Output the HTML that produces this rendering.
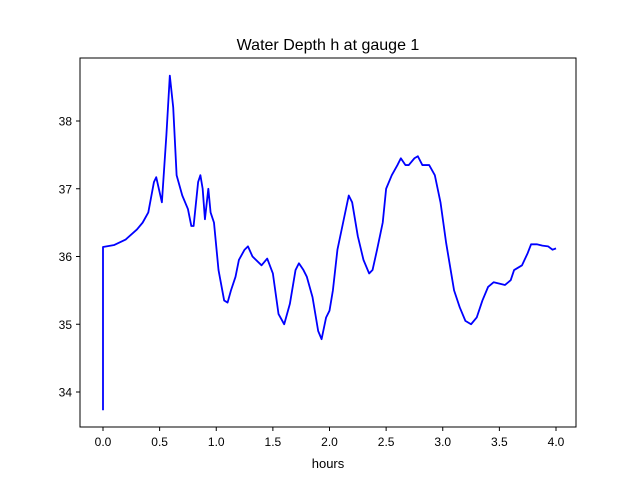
<!DOCTYPE html>
<html><head><meta charset="utf-8"><style>
body{margin:0;background:#fff}
svg{display:block;font-family:"Liberation Sans","DejaVu Sans",sans-serif}
</style></head><body>
<svg id="chart" width="640" height="480" viewBox="0 0 640 480">
<rect width="640" height="480" fill="#fff"/>
<text x="328" y="50" font-size="16" text-anchor="middle">Water Depth h at gauge 1</text>
<g id="plot"></g>
<rect x="80" y="58" width="496" height="369" fill="none" stroke="#000" stroke-width="1"/>
<text x="328" y="468" font-size="13" text-anchor="middle">hours</text>
</svg>
<script>
const times=[0,0,0.1,0.2,0.3,0.35,0.4,0.45,0.47,0.52,0.56,0.59,0.62,0.65,0.7,0.75,0.78,0.8,0.84,0.86,0.88,0.9,0.93,0.95,0.98,1.02,1.07,1.1,1.13,1.17,1.2,1.25,1.28,1.32,1.4,1.45,1.5,1.55,1.6,1.65,1.7,1.73,1.77,1.8,1.85,1.9,1.93,1.97,2.0,2.03,2.07,2.12,2.17,2.2,2.25,2.3,2.35,2.38,2.42,2.47,2.5,2.55,2.6,2.63,2.67,2.7,2.75,2.78,2.82,2.88,2.93,2.98,3.03,3.07,3.1,3.15,3.2,3.25,3.3,3.35,3.4,3.45,3.5,3.55,3.6,3.63,3.7,3.75,3.78,3.83,3.88,3.93,3.97,4.0];
const depths=[33.73,36.14,36.17,36.25,36.4,36.5,36.65,37.1,37.17,36.8,37.8,38.67,38.2,37.2,36.9,36.7,36.45,36.45,37.1,37.2,37.0,36.55,37.0,36.65,36.5,35.8,35.35,35.32,35.5,35.7,35.95,36.1,36.15,36.0,35.87,35.97,35.75,35.15,35.0,35.3,35.8,35.9,35.8,35.7,35.4,34.9,34.78,35.1,35.2,35.5,36.1,36.5,36.9,36.8,36.3,35.95,35.75,35.8,36.1,36.5,37.0,37.2,37.35,37.45,37.35,37.35,37.45,37.48,37.35,37.35,37.2,36.8,36.2,35.8,35.5,35.25,35.05,35.0,35.1,35.35,35.55,35.62,35.6,35.58,35.65,35.8,35.87,36.05,36.18,36.18,36.16,36.15,36.1,36.12];
const xTicks=[0,0.5,1,1.5,2,2.5,3,3.5,4];
const xTickLabels=["0.0","0.5","1.0","1.5","2.0","2.5","3.0","3.5","4.0"];
const yTicks=[34,35,36,37,38];
const yTickLabels=["34","35","36","37","38"];
const NS="http://www.w3.org/2000/svg";
const sx=t=>103+t*113.25;
const sy=v=>392-(v-34)*67.75;
const svg=document.getElementById('chart');
const g=document.getElementById('plot');
xTicks.forEach((t,i)=>{
 const l=document.createElementNS(NS,'line');
 
 
 l.setAttribute('x1',sx(t));l.setAttribute('x2',sx(t));l.setAttribute('y1',427);l.setAttribute('y2',431);l.setAttribute('stroke','#000');
 svg.appendChild(l);
 const tx=document.createElementNS(NS,'text');
 
 
 tx.setAttribute('x',sx(t));tx.setAttribute('y',446);tx.setAttribute('font-size','12');tx.setAttribute('text-anchor','middle');
 tx.textContent=xTickLabels[i];svg.appendChild(tx);
});
yTicks.forEach((v,i)=>{
 const l=document.createElementNS(NS,'line');
 
 
 l.setAttribute('x1',76);l.setAttribute('x2',80);l.setAttribute('y1',sy(v));l.setAttribute('y2',sy(v));l.setAttribute('stroke','#000');
 svg.appendChild(l);
 const tx=document.createElementNS(NS,'text');
 
 
 tx.setAttribute('x',72);tx.setAttribute('y',sy(v)+4.5);tx.setAttribute('font-size','12');tx.setAttribute('text-anchor','end');
 tx.textContent=yTickLabels[i];svg.appendChild(tx);
});
const p=document.createElementNS(NS,'polyline');


p.setAttribute('points',times.map((t,i)=>sx(t)+','+sy(depths[i])).join(' '));
p.setAttribute('fill','none');p.setAttribute('stroke','#0000ff');p.setAttribute('stroke-width','1.8');p.setAttribute('stroke-linejoin','round');
g.appendChild(p);
</script>
</body></html>
